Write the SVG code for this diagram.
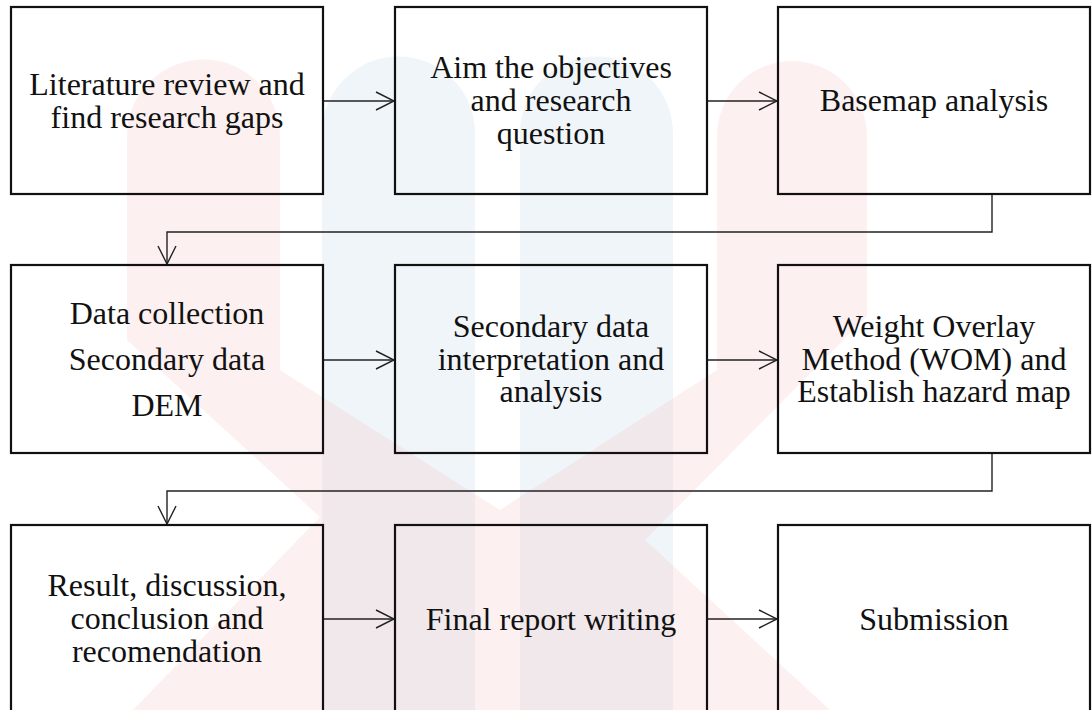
<svg xmlns="http://www.w3.org/2000/svg" width="1092" height="710" viewBox="0 0 1092 710">
<style>
.box{fill:none;stroke:#111;stroke-width:2.2}
.lbl{font-family:"Liberation Serif","Times New Roman",serif;font-size:32px;fill:#111;text-anchor:middle}
.conn{fill:none;stroke:#222;stroke-width:1.4}
.wp{fill:#f6b3b3;opacity:0.2}
.wb{fill:#b3cde0;opacity:0.2}
</style>
<defs>
<marker id="arr" viewBox="0 0 20 20" refX="19" refY="10" markerWidth="20" markerHeight="20" markerUnits="userSpaceOnUse" orient="auto">
<path d="M1,1 L19,10 L1,19" fill="none" stroke="#222" stroke-width="1.4"/>
</marker>
</defs>
<rect width="1092" height="710" fill="#fff"/>
<g id="watermark">
<path class="wb" d="M322,133 A76.5,76.5 0 0 1 475,133 V710 H322 Z"/>
<path class="wb" d="M520,133 A76.5,76.5 0 0 1 673,133 V710 H520 Z"/>
<path class="wp" d="M127,136 A76.5,76.5 0 0 1 280,136 V370 L500,510 L717,370 V136 A75,75 0 0 1 867,136 V316 L645,540 L830,710 H133 L320,517 L127,340 Z"/>
</g>
<g id="connectors">
<path class="conn" d="M323,101 H394" marker-end="url(#arr)"/>
<path class="conn" d="M707,101 H777" marker-end="url(#arr)"/>
<path class="conn" d="M992,194 V232 H167 V264" marker-end="url(#arr)"/>
<path class="conn" d="M323,360 H394" marker-end="url(#arr)"/>
<path class="conn" d="M707,360 H777" marker-end="url(#arr)"/>
<path class="conn" d="M992,453 V491 H167 V524" marker-end="url(#arr)"/>
<path class="conn" d="M323,619 H394" marker-end="url(#arr)"/>
<path class="conn" d="M707,619 H777" marker-end="url(#arr)"/>
</g>
<g id="n1"><rect class="box" x="11" y="7" width="312" height="187"/>
<text class="lbl" x="167" y="94.5">Literature review and</text>
<text class="lbl" x="167" y="127.5">find research gaps</text></g>
<g id="n2"><rect class="box" x="395" y="7" width="312" height="187"/>
<text class="lbl" x="551" y="77.5">Aim the objectives</text>
<text class="lbl" x="551" y="110.5">and research</text>
<text class="lbl" x="551" y="143.5">question</text></g>
<g id="n3"><rect class="box" x="778" y="7" width="312" height="187"/>
<text class="lbl" x="934" y="111">Basemap analysis</text></g>
<g id="n4"><rect class="box" x="11" y="265" width="312" height="188"/>
<text class="lbl" x="167" y="323.5">Data collection</text>
<text class="lbl" x="167" y="369.5">Secondary data</text>
<text class="lbl" x="167" y="415.5">DEM</text></g>
<g id="n5"><rect class="box" x="395" y="265" width="312" height="188"/>
<text class="lbl" x="551" y="337">Secondary data</text>
<text class="lbl" x="551" y="369.5">interpretation and</text>
<text class="lbl" x="551" y="402">analysis</text></g>
<g id="n6"><rect class="box" x="778" y="265" width="312" height="188"/>
<text class="lbl" x="934" y="337">Weight Overlay</text>
<text class="lbl" x="934" y="369.5">Method (WOM) and</text>
<text class="lbl" x="934" y="402">Establish hazard map</text></g>
<g id="n7"><rect class="box" x="11" y="525" width="312" height="188"/>
<text class="lbl" x="167" y="596">Result, discussion,</text>
<text class="lbl" x="167" y="629">conclusion and</text>
<text class="lbl" x="167" y="662">recomendation</text></g>
<g id="n8"><rect class="box" x="395" y="525" width="312" height="188"/>
<text class="lbl" x="551" y="629.5">Final report writing</text></g>
<g id="n9"><rect class="box" x="778" y="525" width="312" height="188"/>
<text class="lbl" x="934" y="629.5">Submission</text></g>
</svg>
